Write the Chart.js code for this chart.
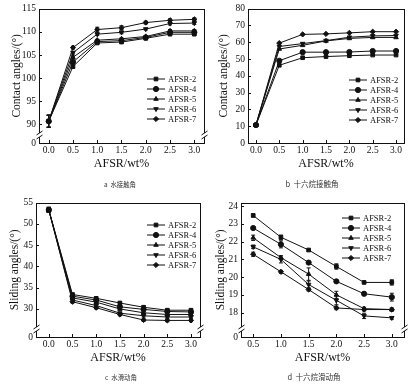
<!DOCTYPE html>
<html>
<head>
<meta charset="utf-8">
<script src="https://cdn.jsdelivr.net/npm/chart.js@4.4.1/dist/chart.umd.min.js"></script>
<style>
  body { margin: 0; background: #fff; }
  #wrap { position: relative; width: 419px; height: 389px; overflow: hidden; }
  canvas { position: absolute; }
</style>
</head>
<body>
<div id="wrap">
  <canvas id="panel-a" width="209" height="194" style="left:0;top:0"></canvas>
  <canvas id="panel-b" width="210" height="194" style="left:209px;top:0"></canvas>
  <canvas id="panel-c" width="209" height="195" style="left:0;top:194px"></canvas>
  <canvas id="panel-d" width="210" height="195" style="left:209px;top:194px"></canvas>
</div>
<script>
// series names and markers
const seriesNames = ['AFSR-2', 'AFSR-4', 'AFSR-5', 'AFSR-6', 'AFSR-7'];
const markers = ['rect', 'circle', 'triangle', 'triangle', 'rectRot'];
const markerRotation = [0, 0, 0, 180, 0];

// x values (AFSR content, wt%)
const loadsFull = [0, 0.5, 1.0, 1.5, 2.0, 2.5, 3.0];
const loadsNoZero = [0.5, 1.0, 1.5, 2.0, 2.5, 3.0];

// tick labels
const xTicksFull = [0, 0.5, 1.0, 1.5, 2.0, 2.5, 3.0];
const xTicksNoZero = [0.5, 1.0, 1.5, 2.0, 2.5, 3.0];
const yTicksA = [86, 90, 95, 100, 105, 110, 115];
const yTicksB = [0, 10, 20, 30, 40, 50, 60, 70, 80];
const yTicksC = [23.4, 30, 35, 40, 45, 50, 55];
const yTicksD = [16.62, 18, 19, 20, 21, 22, 23, 24];

// a: water contact angle
const waterContact = [
    [90.7, 102.5, 107.6, 107.8, 108.6, 109.5, 109.5],
    [90.7, 103.5, 107.9, 108.1, 108.8, 109.9, 109.9],
    [90.7, 104.5, 108.2, 108.5, 109.0, 110.2, 110.2],
    [90.7, 105.5, 109.5, 109.9, 110.6, 111.8, 111.9],
    [90.7, 106.6, 110.5, 110.9, 112.0, 112.5, 112.7]
];
const waterContactErr = [
    [1.3, 0.3, 0.2, 0.2, 0.2, 0.2, 0.2],
    [1.3, 0.3, 0.2, 0.2, 0.2, 0.2, 0.2],
    [1.3, 0.3, 0.2, 0.2, 0.2, 0.3, 0.3],
    [1.3, 0.3, 0.3, 0.3, 0.2, 0.3, 0.3],
    [1.3, 0.3, 0.5, 0.4, 0.3, 0.3, 0.3]
];

// b: hexadecane contact angle
const oilContact = [
    [10.7, 46.3, 50.8, 51.5, 52.0, 52.4, 52.4],
    [10.7, 49.0, 54.1, 54.1, 54.2, 54.8, 54.8],
    [10.7, 56.0, 58.2, 60.8, 62.3, 62.9, 62.9],
    [10.7, 57.5, 59.2, 61.0, 63.0, 63.8, 64.0],
    [10.7, 59.5, 64.7, 65.0, 65.6, 66.3, 66.3]
];

// c: water sliding angle
const waterSliding = [
    [53.3, 33.4, 32.5, 31.4, 30.4, 29.7, 29.7],
    [53.3, 33.0, 32.1, 30.5, 29.9, 29.4, 29.3],
    [53.3, 32.6, 31.6, 30.0, 29.1, 28.7, 28.7],
    [53.3, 32.1, 30.8, 29.0, 28.4, 28.1, 28.1],
    [53.3, 31.7, 30.3, 28.7, 27.4, 27.3, 27.3]
];
const waterSlidingErr = [
    [0.6, 0.3, 0.3, 0.3, 0.3, 0.3, 0.3],
    [0.6, 0.3, 0.3, 0.3, 0.3, 0.3, 0.3],
    [0.6, 0.3, 0.3, 0.3, 0.3, 0.3, 0.3],
    [0.6, 0.3, 0.3, 0.3, 0.3, 0.3, 0.3],
    [0.6, 0.3, 0.3, 0.3, 0.3, 0.3, 0.3]
];

// d: hexadecane sliding angle
const oilSliding = [
    [23.48, 22.25, 21.53, 20.6, 19.7, 19.7],
    [22.77, 21.85, 20.82, 19.76, 19.06, 18.87],
    [22.22, 21.1, 20.17, 19.0, 18.22, 18.17],
    [21.71, 21.0, 19.58, 18.69, 17.81, 17.7],
    [21.29, 20.3, 19.3, 18.26, 18.17, 18.17]
];
const oilSlidingErr = [
    [0.08, 0.12, 0.05, 0.15, 0.05, 0.15],
    [0.05, 0.2, 0.05, 0.05, 0.1, 0.22],
    [0.15, 0.1, 0.35, 0.2, 0.08, 0.08],
    [0.1, 0.2, 0.2, 0.25, 0.15, 0.08],
    [0.12, 0.08, 0.08, 0.1, 0.08, 0.08]
];

const serif = 'Liberation Serif';
const ink = '#111';

// error bars, frame, inward ticks, axis breaks, legend and caption
const framePlugin = {
    id: 'frame',
    afterDatasetsDraw(chart) {
        const ctx = chart.ctx;
        const yScale = chart.scales.y;
        ctx.save();
        ctx.strokeStyle = ink;
        ctx.lineWidth = 1;
        chart.data.datasets.forEach((ds, i) => {
            if (!ds.errors) return;
            const meta = chart.getDatasetMeta(i);
            meta.data.forEach((pt, j) => {
                const e = ds.errors[j];
                if (!e) return;
                const v = ds.data[j].y;
                const y1 = yScale.getPixelForValue(v + e);
                const y2 = yScale.getPixelForValue(v - e);
                ctx.beginPath();
                ctx.moveTo(pt.x, y1); ctx.lineTo(pt.x, y2);
                ctx.moveTo(pt.x - 2, y1); ctx.lineTo(pt.x + 2, y1);
                ctx.moveTo(pt.x - 2, y2); ctx.lineTo(pt.x + 2, y2);
                ctx.stroke();
            });
        });
        ctx.restore();
    },
    afterDraw(chart, args, opts) {
        const ctx = chart.ctx;
        const a = chart.chartArea;
        const xs = chart.scales.x, ys = chart.scales.y;
        ctx.save();
        ctx.strokeStyle = ink;
        ctx.lineWidth = 1;
        ctx.strokeRect(Math.round(a.left) + 0.5, Math.round(a.top) + 0.5,
            Math.round(a.right - a.left), Math.round(a.bottom - a.top));

        ctx.beginPath();
        xs.ticks.forEach(t => {
            const x = Math.round(xs.getPixelForValue(t.value)) + 0.5;
            ctx.moveTo(x, a.bottom); ctx.lineTo(x, a.bottom - 3);
        });
        ys.ticks.forEach(t => {
            const y = Math.round(ys.getPixelForValue(t.value)) + 0.5;
            ctx.moveTo(a.left, y); ctx.lineTo(a.left + 3, y);
        });
        ctx.stroke();

        if (opts.breakAxis) {
            const by = a.bottom - 8;
            [a.left + 0.5, a.right + 0.5].forEach(bx => {
                ctx.fillStyle = '#fff';
                ctx.fillRect(bx - 3, by - 2, 6, 4);
                ctx.beginPath();
                ctx.moveTo(bx - 3, by + 0); ctx.lineTo(bx + 3, by - 4);
                ctx.moveTo(bx - 3, by + 4); ctx.lineTo(bx + 3, by + 0);
                ctx.stroke();
            });
        }

        // legend
        const lg = opts.legend;
        ctx.font = '8.5px "' + serif + '"';
        ctx.textBaseline = 'middle';
        chart.data.datasets.forEach((ds, i) => {
            const y = lg.top + i * 10;
            ctx.strokeStyle = ink;
            ctx.fillStyle = ink;
            ctx.beginPath();
            ctx.moveTo(lg.left, y); ctx.lineTo(lg.left + 18, y);
            ctx.stroke();
            Chart.helpers.drawPoint(ctx, {
                pointStyle: ds.pointStyle, rotation: ds.pointRotation,
                radius: 2.6, borderWidth: 1
            }, lg.left + 9, y);
            ctx.fillText(ds.label, lg.left + 21, y + 0.5);
        });

        // caption
        ctx.font = opts.caption.size + 'px "Noto Sans CJK SC"';
        ctx.textAlign = 'center';
        ctx.fillStyle = '#333';
        ctx.fillText(opts.caption.text, opts.caption.x, opts.caption.y, opts.caption.width);
        ctx.restore();
    }
};

function makePanel(id, cfg) {
    const datasets = cfg.values.map((vals, i) => ({
        label: seriesNames[i],
        data: cfg.x.map((x, j) => ({ x: x, y: vals[j] })),
        errors: cfg.errors ? cfg.errors[i] : null,
        borderColor: ink,
        backgroundColor: ink,
        borderWidth: 1,
        pointStyle: markers[i],
        pointRotation: markerRotation[i],
        pointRadius: 2.6,
        pointBorderWidth: 1,
        tension: 0
    }));

    return new Chart(document.getElementById(id), {
        type: 'line',
        data: { datasets: datasets },
        options: {
            responsive: false,
            animation: false,
            layout: { padding: cfg.padding },
            plugins: {
                legend: { display: false },
                tooltip: { enabled: false },
                frame: { breakAxis: cfg.breakAxis, legend: cfg.legend, caption: cfg.caption }
            },
            scales: {
                x: {
                    type: 'linear',
                    min: cfg.xMin,
                    max: cfg.xMax,
                    afterBuildTicks: (s) => { s.ticks = cfg.xTicks.map(v => ({ value: v })); },
                    afterFit: (s) => { s.height = 28; },
                    ticks: {
                        autoSkip: false, maxRotation: 0, padding: 2, color: ink,
                        font: { family: serif, size: 9.5 },
                        callback: (v) => Number(v).toFixed(1)
                    },
                    grid: { display: false, drawTicks: false },
                    border: { display: false },
                    title: {
                        display: true, text: 'AFSR/wt%', color: ink, padding: 0,
                        font: { family: serif, size: 12 }
                    }
                },
                y: {
                    type: 'linear',
                    min: cfg.yMin,
                    max: cfg.yMax,
                    afterBuildTicks: (s) => { s.ticks = cfg.yTicks.map(v => ({ value: v })); },
                    afterFit: (s) => { s.width = cfg.yWidth; },
                    ticks: {
                        autoSkip: false, padding: 3, color: ink,
                        font: { family: serif, size: 9.5 },
                        callback: (v) => (v === cfg.yMin ? '0' : String(v))
                    },
                    grid: { display: false, drawTicks: false },
                    border: { display: false },
                    title: {
                        display: true, text: cfg.yTitle, color: ink, padding: 0,
                        font: { family: serif, size: 11.5 }
                    }
                }
            }
        },
        plugins: [framePlugin]
    });
}

makePanel('panel-a', {
    x: loadsFull, values: waterContact, errors: waterContactErr,
    xMin: -0.2, xMax: 3.2, xTicks: xTicksFull,
    yMin: 86, yMax: 115, yTicks: yTicksA, yWidth: 29,
    padding: { left: 10, top: 7, right: 2, bottom: 23 },
    yTitle: 'Contact angles/(°)', breakAxis: true,
    legend: { left: 147, top: 79 },
    caption: { text: 'a  水接触角', x: 120, y: 184, size: 7, width: 32 }
});

makePanel('panel-b', {
    x: loadsFull, values: oilContact, errors: null,
    xMin: -0.17, xMax: 3.17, xTicks: xTicksFull,
    yMin: 0, yMax: 80, yTicks: yTicksB, yWidth: 31,
    padding: { left: 8, top: 8, right: 15, bottom: 23 },
    yTitle: 'Contact angles/(°)', breakAxis: false,
    legend: { left: 140, top: 80 },
    caption: { text: 'b  十六烷接触角', x: 103, y: 184, size: 7.5, width: 58 }
});

makePanel('panel-c', {
    x: loadsFull, values: waterSliding, errors: waterSlidingErr,
    xMin: -0.27, xMax: 3.19, xTicks: xTicksFull,
    yMin: 23.4, yMax: 55, yTicks: yTicksC, yWidth: 28,
    padding: { left: 8, top: 7, right: 9, bottom: 24 },
    yTitle: 'Sliding angles/(°)', breakAxis: true,
    legend: { left: 147, top: 31 },
    caption: { text: 'c  水滑动角', x: 121, y: 183, size: 7, width: 32 }
});

makePanel('panel-d', {
    x: loadsNoZero, values: oilSliding, errors: oilSlidingErr,
    xMin: 0.28, xMax: 3.22, xTicks: xTicksNoZero,
    yMin: 16.62, yMax: 24.2, yTicks: yTicksD, yWidth: 27,
    padding: { left: 5, top: 7, right: 15, bottom: 24 },
    yTitle: 'Sliding angles/(°)', breakAxis: true,
    legend: { left: 133, top: 24 },
    caption: { text: 'd  十六烷滑动角', x: 105, y: 183, size: 7.5, width: 62 }
});
</script>
</body>
</html>
